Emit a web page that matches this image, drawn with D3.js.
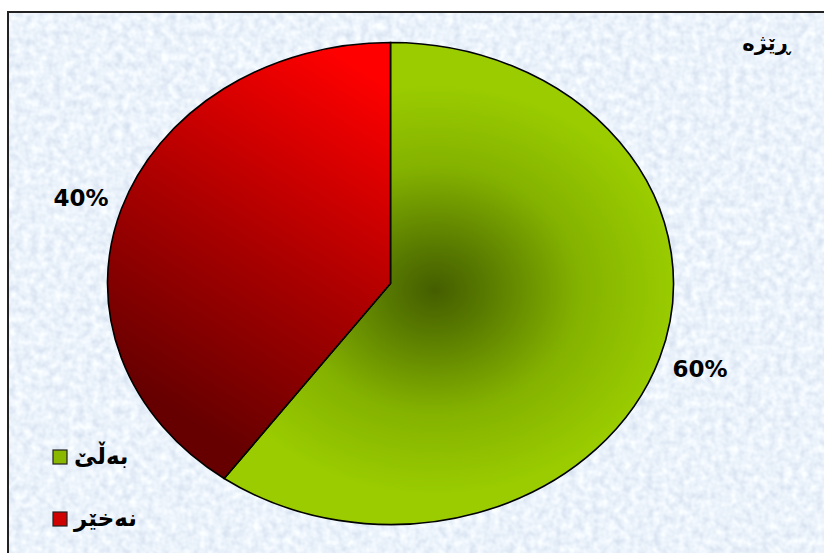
<!DOCTYPE html>
<html>
<head>
<meta charset="utf-8">
<script src="https://cdn.jsdelivr.net/npm/d3@7"></script>
<style>
  body { margin: 0; background: #fff; }
  svg { display: block; }
  text { font-family: "DejaVu Sans", sans-serif; font-weight: bold; fill: #000; }
</style>
</head>
<body>
<svg width="824" height="553"></svg>
<script>
const CATEGORIES = ['بەڵێ', 'نەخێر'];
const VALUES = [60, 40];
const LABELS = ['60%', '40%'];
const TITLE = 'ڕێژە';

const WIDTH = 824;
const HEIGHT = 553;
const CX = 390.5, CY = 283.5;
const RX = 283, RY = 241;
const SX = RX / RY; // horizontal stretch for the ellipse

const svg = d3.select('svg');
const defs = svg.append('defs');

// mottled light blue background
const noise = defs.append('filter').attr('id', 'noise')
    .attr('x', 0).attr('y', 0).attr('width', '100%').attr('height', '100%');
noise.append('feTurbulence')
    .attr('type', 'fractalNoise')
    .attr('baseFrequency', 0.13)
    .attr('numOctaves', 2)
    .attr('seed', 3);
noise.append('feColorMatrix')
    .attr('type', 'matrix')
    .attr('values', '0.4 0 0 0 0.63  0.34 0 0 0 0.72  0.22 0 0 0 0.85  0 0 0 0 1');

svg.append('rect')
    .attr('x', 8).attr('y', 12)
    .attr('width', WIDTH).attr('height', HEIGHT)
    .attr('filter', 'url(#noise)');
svg.append('rect')
    .attr('x', 8).attr('y', 12)
    .attr('width', WIDTH).attr('height', HEIGHT)
    .attr('fill', 'none')
    .attr('stroke', '#222')
    .attr('stroke-width', 2);

// local coords of the scaled pie group
const lx = sx => (sx - CX) / SX;
const ly = sy => sy - CY;

const green = defs.append('radialGradient').attr('id', 'gGreen')
    .attr('gradientUnits', 'userSpaceOnUse')
    .attr('cx', lx(435)).attr('cy', ly(290)).attr('r', 205)
    .attr('fx', lx(435)).attr('fy', ly(290));
[[0, '#445e00'], [0.2, '#577800'], [0.6, '#84b200'], [1, '#9acc00']].forEach(s =>
    green.append('stop').attr('offset', s[0]).attr('stop-color', s[1]));

const red = defs.append('linearGradient').attr('id', 'gRed')
    .attr('gradientUnits', 'userSpaceOnUse')
    .attr('x1', lx(140)).attr('y1', ly(390))
    .attr('x2', lx(400)).attr('y2', ly(90));
[[0, '#660000'], [0.45, '#a80000'], [1, '#ff0000']].forEach(s =>
    red.append('stop').attr('offset', s[0]).attr('stop-color', s[1]));

const FILLS = ['url(#gGreen)', 'url(#gRed)'];

const pie = d3.pie().sort(null).value(d => d);
const arcs = pie(VALUES);
const arc = d3.arc().innerRadius(0).outerRadius(RY);
const labelArc = d3.arc().innerRadius(RY * 1.15).outerRadius(RY * 1.15);

const pieG = svg.append('g')
    .attr('transform', `translate(${CX},${CY}) scale(${SX},1)`);

pieG.selectAll('.slice')
    .data(arcs)
    .enter()
    .append('path')
    .classed('slice', true)
    .attr('d', arc)
    .attr('fill', (d, i) => FILLS[i])
    .attr('stroke', '#000')
    .attr('stroke-width', 1.6)
    .attr('vector-effect', 'non-scaling-stroke');

svg.selectAll('.label')
    .data(arcs)
    .enter()
    .append('text')
    .classed('label', true)
    .attr('x', d => CX + labelArc.centroid(d)[0] * SX)
    .attr('y', d => CY + labelArc.centroid(d)[1])
    .attr('dy', '0.36em')
    .attr('text-anchor', 'middle')
    .style('font-size', '23px')
    .text((d, i) => LABELS[i]);

// title
svg.append('text')
    .attr('x', 790).attr('y', 50)
    .attr('text-anchor', 'end')
    .style('font-size', '21px')
    .text(TITLE);

// legend
const legendFills = ['#8ab800', '#d00000'];
const legend = svg.selectAll('.legend')
    .data(CATEGORIES)
    .enter()
    .append('g')
    .classed('legend', true)
    .attr('transform', (d, i) => `translate(53,${450 + i * 62})`);

legend.append('rect')
    .attr('width', 14).attr('height', 14)
    .attr('fill', (d, i) => legendFills[i])
    .attr('stroke', '#222')
    .attr('stroke-width', 1.2);

legend.append('text')
    .attr('x', 21).attr('y', 14)
    .style('font-size', '23px')
    .text(d => d);
</script>
</body>
</html>
